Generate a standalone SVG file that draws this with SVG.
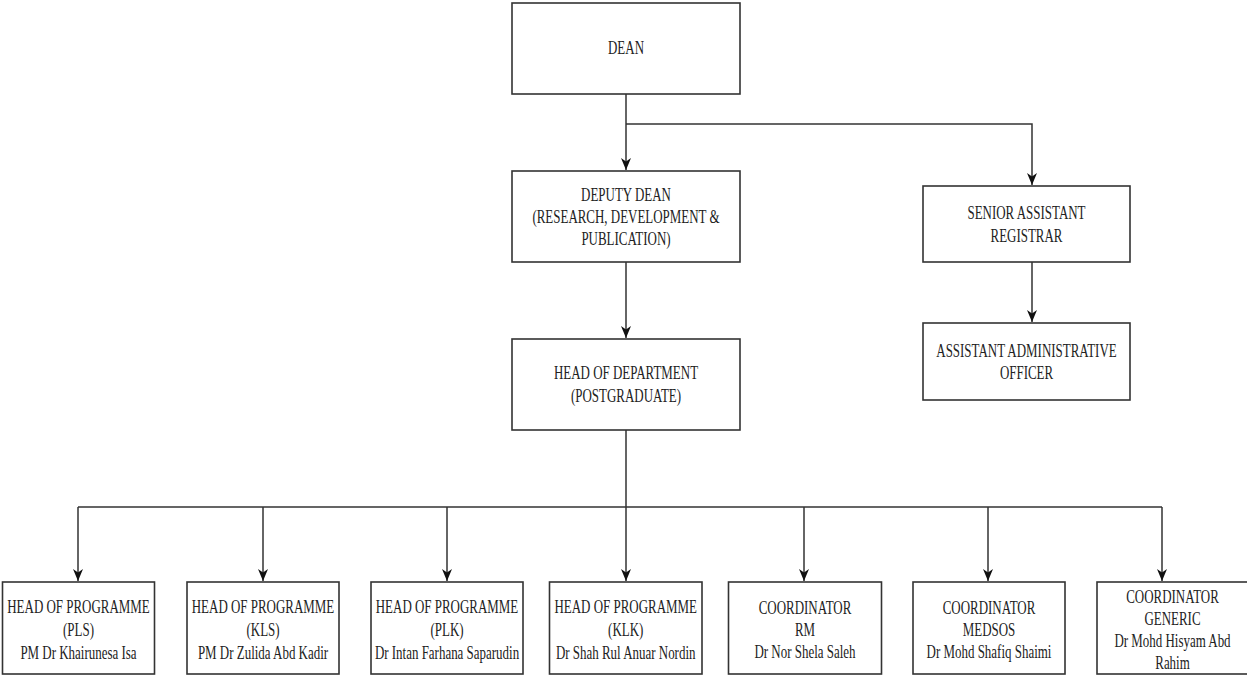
<svg xmlns="http://www.w3.org/2000/svg" width="1247" height="675" viewBox="0 0 1247 675">
<defs>
<style>
.box{fill:#fff;stroke:#333;stroke-width:1.6}
.t{font-family:"Liberation Serif","Times New Roman",serif;font-size:18px;fill:#222;text-anchor:middle;dominant-baseline:central}
.c{fill:none;stroke:#333;stroke-width:1.5}
</style>
<marker id="ah" viewBox="0 0 12 12" refX="12" refY="6" markerWidth="12" markerHeight="12" markerUnits="userSpaceOnUse" orient="auto">
<path d="M0,1 L12,6 L0,11 L3.5,6 z" fill="#111"/>
</marker>
</defs>
<rect width="1247" height="675" fill="#fff"/>
<g id="connectors">
<path class="c" d="M626,94 V170" marker-end="url(#ah)"/>
<path class="c" d="M626,124 H1032 V185" marker-end="url(#ah)"/>
<path class="c" d="M626,262 V338" marker-end="url(#ah)"/>
<path class="c" d="M1032,262 V322" marker-end="url(#ah)"/>
<path class="c" d="M626,430 V507 M78,507 H1162"/>
<path class="c" d="M78,507 V581" marker-end="url(#ah)"/>
<path class="c" d="M263,507 V581" marker-end="url(#ah)"/>
<path class="c" d="M447,507 V581" marker-end="url(#ah)"/>
<path class="c" d="M626,507 V581" marker-end="url(#ah)"/>
<path class="c" d="M804,507 V581" marker-end="url(#ah)"/>
<path class="c" d="M988,507 V581" marker-end="url(#ah)"/>
<path class="c" d="M1162,507 V581" marker-end="url(#ah)"/>
</g>
<g id="dean">
<rect class="box" x="512" y="3" width="228" height="91"/>
<g transform="translate(626 0) scale(0.72 1)"><text class="t" x="0" y="48">DEAN</text></g>
</g>
<g id="deputy-dean">
<rect class="box" x="512" y="171" width="228" height="91"/>
<g transform="translate(626 0) scale(0.72 1)">
<text class="t" x="0" y="195">DEPUTY DEAN</text>
<text class="t" x="0" y="217">(RESEARCH, DEVELOPMENT &amp;</text>
<text class="t" x="0" y="239">PUBLICATION)</text>
</g>
</g>
<g id="head-of-department">
<rect class="box" x="512" y="339" width="228" height="91"/>
<g transform="translate(626 0) scale(0.72 1)">
<text class="t" x="0" y="373">HEAD OF DEPARTMENT</text>
<text class="t" x="0" y="396">(POSTGRADUATE)</text>
</g>
</g>
<g id="senior-assistant-registrar">
<rect class="box" x="923" y="186" width="207" height="76"/>
<g transform="translate(1026.5 0) scale(0.72 1)">
<text class="t" x="0" y="213">SENIOR ASSISTANT</text>
<text class="t" x="0" y="236">REGISTRAR</text>
</g>
</g>
<g id="assistant-administrative-officer">
<rect class="box" x="923" y="323" width="207" height="77"/>
<g transform="translate(1026.5 0) scale(0.72 1)">
<text class="t" x="0" y="351">ASSISTANT ADMINISTRATIVE</text>
<text class="t" x="0" y="373">OFFICER</text>
</g>
</g>
<g id="hop-pls">
<rect class="box" x="2.5" y="582" width="152" height="92"/>
<g transform="translate(78.5 0) scale(0.72 1)">
<text class="t" x="0" y="607">HEAD OF PROGRAMME</text>
<text class="t" x="0" y="630">(PLS)</text>
<text class="t" x="0" y="653">PM Dr Khairunesa Isa</text>
</g>
</g>
<g id="hop-kls">
<rect class="box" x="187" y="582" width="152" height="92"/>
<g transform="translate(263 0) scale(0.72 1)">
<text class="t" x="0" y="607">HEAD OF PROGRAMME</text>
<text class="t" x="0" y="630">(KLS)</text>
<text class="t" x="0" y="653">PM Dr Zulida Abd Kadir</text>
</g>
</g>
<g id="hop-plk">
<rect class="box" x="371" y="582" width="152" height="92"/>
<g transform="translate(447 0) scale(0.72 1)">
<text class="t" x="0" y="607">HEAD OF PROGRAMME</text>
<text class="t" x="0" y="630">(PLK)</text>
<text class="t" x="0" y="653">Dr Intan Farhana Saparudin</text>
</g>
</g>
<g id="hop-klk">
<rect class="box" x="549.5" y="582" width="152.5" height="92"/>
<g transform="translate(625.7 0) scale(0.72 1)">
<text class="t" x="0" y="607">HEAD OF PROGRAMME</text>
<text class="t" x="0" y="630">(KLK)</text>
<text class="t" x="0" y="653">Dr Shah Rul Anuar Nordin</text>
</g>
</g>
<g id="coord-rm">
<rect class="box" x="728.5" y="582" width="153" height="92"/>
<g transform="translate(805 0) scale(0.72 1)">
<text class="t" x="0" y="608">COORDINATOR</text>
<text class="t" x="0" y="630">RM</text>
<text class="t" x="0" y="652">Dr Nor Shela Saleh</text>
</g>
</g>
<g id="coord-medsos">
<rect class="box" x="913" y="582" width="152" height="92"/>
<g transform="translate(989 0) scale(0.72 1)">
<text class="t" x="0" y="608">COORDINATOR</text>
<text class="t" x="0" y="630">MEDSOS</text>
<text class="t" x="0" y="652">Dr Mohd Shafiq Shaimi</text>
</g>
</g>
<g id="coord-generic">
<rect class="box" x="1097" y="582" width="152" height="92"/>
<g transform="translate(1172.5 0) scale(0.72 1)">
<text class="t" x="0" y="597">COORDINATOR</text>
<text class="t" x="0" y="619">GENERIC</text>
<text class="t" x="0" y="641">Dr Mohd Hisyam Abd</text>
<text class="t" x="0" y="663">Rahim</text>
</g>
</g>
</svg>
